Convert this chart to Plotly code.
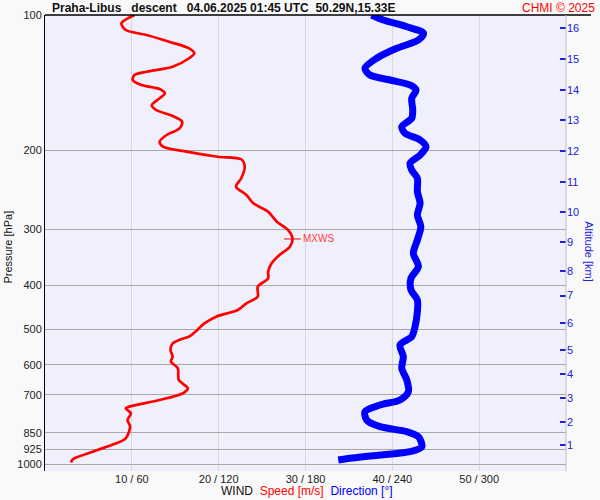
import math
import plotly.graph_objects as go

# ---------------- data ----------------
speed_p = [100, 104.3, 108, 110.8, 114.7, 118.6, 121.7, 124.8, 130.3, 133.7, 136, 139.5,
           143.1, 146.1, 149.4, 153.2, 158.6, 162.7, 167.8, 172.7, 178.7, 184.9, 191.3,
           196.3, 201.4, 206.7, 209.4, 217.5, 230.8, 241.0, 251.5, 262.4, 273.9, 288.3,
           300.9, 314.0, 327.8, 342.0, 356.8, 372.5, 385.3, 402.2, 423.3, 437.9, 453.2,
           469, 485, 518, 528, 537.5, 556, 575.6, 590.5, 611, 648.6, 676.8, 694.3, 718.5,
           743.6, 749.9, 769.3, 796.2, 824, 874.6, 897.2, 936.5, 973.6, 990]
speed_v = [10.3, 8.8, 9.3, 11.7, 14.3, 16.6, 17.2, 16.6, 14.7, 11.7, 10.3, 10.1,
           11.1, 13.2, 13.8, 13.2, 12.3, 12.8, 14.7, 15.8, 15.5, 14.0, 13.2,
           13.6, 16.3, 19.9, 22.6, 23.0, 22.6, 22.0, 23.2, 24.0, 25.7, 26.7,
           28.0, 28.5, 28.2, 27.0, 26.1, 25.7, 25.7, 24.5, 24.5, 23.2, 22.2,
           19.7, 18.4, 16.7, 15.5, 14.7, 14.45, 14.7, 14.5, 15.3, 15.4, 16.45, 15.9, 13.2,
           9.7, 9.3, 9.9, 9.5, 9.8, 9.3, 8.2, 5.5, 3.2, 3.0]

dir_p = [100, 102.6, 106.2, 109.8, 113.7, 118.6, 124.8, 131.4, 136, 139.5, 143.1, 146.8,
         153.2, 162.7, 169.7, 177.2, 183.3, 189.7, 196.3, 204.9, 213.8, 221.2, 230.8,
         247.3, 262.4, 278.6, 295.8, 316.7, 338.9, 363.1, 385.3, 409.1, 430.5, 457.2,
         493.6, 519.6, 542.2, 575.6, 610.9, 648.6, 688.7, 718.5, 737.3, 763.0, 796.2,
         824.0, 845.3, 867.3, 913.0, 936.5, 952.6, 968.7, 977.2]
dir_v = [225.7, 233.8, 250.0, 261.5, 258.0, 243.0, 229.2, 221.1, 224.5, 238.4, 252.2, 256.4,
         253.4, 254.1, 253.4, 246.5, 248.8, 259.2, 263.3, 259.2, 252.2, 253.4, 257.3,
         257.3, 259.2, 257.3, 259.7, 257.3, 254.5, 258.0, 252.9, 252.9, 257.3, 257.3,
         255.7, 253.4, 245.3, 247.6, 246.5, 250.0, 251.1, 245.3, 231.5, 221.1, 222.3,
         231.5, 250.0, 258.0, 260.4, 252.2, 231.5, 210.7, 202.6]

p_ticks = [100, 200, 300, 400, 500, 600, 700, 850, 925, 1000]
p_labels = [str(v) for v in p_ticks]
x_ticks = [10, 20, 30, 40, 50]
x_labels = ["10 / 60", "20 / 120", "30 / 180", "40 / 240", "50 / 300"]
alt_p = [904.8, 805.6, 712.3, 630.0, 556.2, 485.1, 421.1, 371.1, 320.4, 274.8,
         235.6, 200.7, 171.2, 146.8, 125.5, 107.0]
alt_labels = [str(i) for i in range(1, 17)]
mxws_p = 315.0
mxws_v = 28.5

FONT = "Arial, 'Liberation Sans', sans-serif"
yrange = [math.log10(1034), 2]

fig = go.Figure()
fig.add_trace(go.Scatter(x=speed_v, y=speed_p, mode="lines",
                         line=dict(color="#ff0000", width=2.7, shape="spline", smoothing=0.8),
                         xaxis="x", yaxis="y", hoverinfo="skip"))
fig.add_trace(go.Scatter(x=dir_v, y=dir_p, mode="lines",
                         line=dict(color="#0000ff", width=7, shape="spline", smoothing=0.8),
                         xaxis="x2", yaxis="y2", hoverinfo="skip"))
fig.add_trace(go.Scatter(x=[mxws_v], y=[mxws_p], mode="markers",
                         marker=dict(symbol="line-ew", size=12, line=dict(color="#ff0000", width=1)),
                         xaxis="x", yaxis="y", hoverinfo="skip"))

fig.update_layout(
    width=600, height=500,
    margin=dict(l=45, r=34, t=15, b=29, autoexpand=False),
    paper_bgcolor="#f9f9f9", plot_bgcolor="#f0f0fd",
    showlegend=False,
    font=dict(family=FONT, size=11, color="#222222"),
    xaxis=dict(range=[0, 60], tickvals=x_ticks, ticktext=x_labels, showgrid=True,
               gridcolor="#d8d8d8", gridwidth=1, zeroline=False, showline=False, ticks="",
               automargin=False, tickfont=dict(size=11, color="#222222")),
    xaxis2=dict(range=[0, 360], overlaying="x", visible=False, automargin=False),
    yaxis=dict(type="log", range=yrange, tickvals=p_ticks, ticktext=p_labels,
               showgrid=True, gridcolor="#a8a8a8", gridwidth=1, zeroline=False,
               showline=True, linecolor="#000000", linewidth=1, ticks="",
               automargin=False, tickfont=dict(size=11, color="#222222")),
    yaxis2=dict(type="log", range=yrange, overlaying="y", side="right",
                tickvals=alt_p, ticktext=alt_labels, ticks="inside", ticklen=6,
                tickcolor="#2020e0", tickwidth=1.5, showgrid=False, zeroline=False,
                showline=False, automargin=False, tickfont=dict(size=11, color="#2020e0")),
)

# frame lines
fig.add_shape(type="line", xref="paper", yref="paper", x0=0, x1=1.048, y0=1, y1=1,
              line=dict(color="#000000", width=1.5))
fig.add_shape(type="line", xref="paper", yref="paper", x0=1, x1=1, y0=0, y1=1,
              line=dict(color="#c0c0c0", width=1))
# max wind markers on both axes
fig.add_shape(type="line", xref="paper", yref="y", x0=-0.004, x1=0.021,
              y0=math.log10(mxws_p), y1=math.log10(mxws_p), line=dict(color="#ff0000", width=1))
fig.add_shape(type="line", xref="paper", yref="y", x0=0.979, x1=1.0,
              y0=math.log10(mxws_p), y1=math.log10(mxws_p), line=dict(color="#ff0000", width=1))

fig.add_annotation(x=mxws_v, y=math.log10(mxws_p), xref="x", yref="y", text="MXWS",
                   showarrow=False, xanchor="left", xshift=9,
                   font=dict(family=FONT, size=10, color="#ff4040"))

fig.add_annotation(x=0.01, y=1.0154, xref="paper", yref="paper", xanchor="left", yanchor="middle",
                   text="<b>Praha-Libus\u00a0\u00a0\u00a0descent\u00a0\u00a0\u00a004.06.2025 01:45 UTC\u00a0\u00a050.29N,15.33E</b>",
                   showarrow=False, font=dict(family=FONT, size=12, color="#111111"))
fig.add_annotation(x=1.0595, y=1.0154, xref="paper", yref="paper", xanchor="right", yanchor="middle",
                   text="CHMI © 2025", showarrow=False,
                   font=dict(family=FONT, size=12, color="#ff0000"))
fig.add_annotation(x=0.502, y=-0.044, xref="paper", yref="paper", xanchor="center", yanchor="middle",
                   text="WIND\u00a0\u00a0<span style='color:#ff0000'>Speed [m/s]</span>\u00a0\u00a0<span style='color:#0000ff'>Direction [°]</span>",
                   showarrow=False, font=dict(family=FONT, size=12, color="#111111"))
fig.add_annotation(x=-0.071, y=0.49, xref="paper", yref="paper", xanchor="center", yanchor="middle",
                   text="Pressure [hPa]", textangle=-90, showarrow=False,
                   font=dict(family=FONT, size=11, color="#111111"))
fig.add_annotation(x=1.044, y=0.48, xref="paper", yref="paper", xanchor="center", yanchor="middle",
                   text="Altitude [km]", textangle=90, showarrow=False,
                   font=dict(family=FONT, size=11, color="#2020e0"))

fig.write_html("out.html", config={"displayModeBar": False},
               post_script="document.body.style.margin='0px';")
